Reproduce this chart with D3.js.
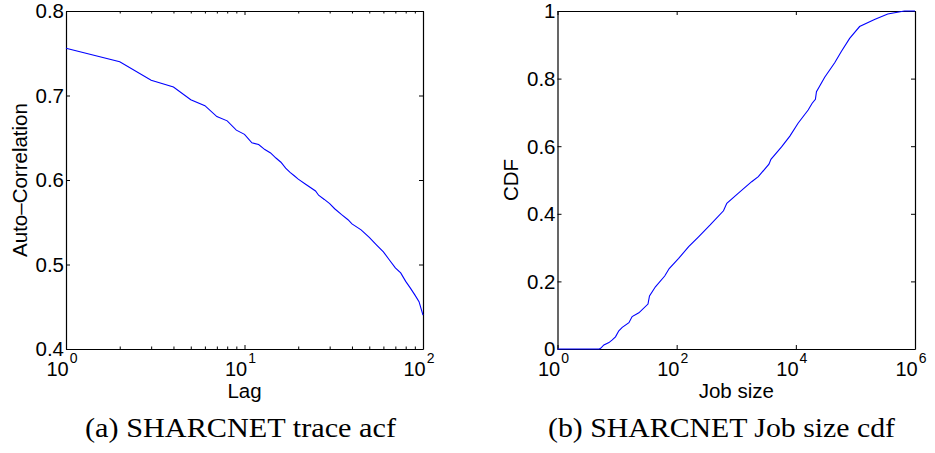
<!DOCTYPE html>
<html lang="en">
<head>
	<title>SHARCNET acf and job size cdf</title>
	<script src="https://d3js.org/d3.v7.min.js" charset="utf-8"></script>
	<style>
		body { margin: 0; background: #fff; }
		text { font-family: "Liberation Sans", Arial, sans-serif; }
		text.caption { font-family: "Liberation Serif", "DejaVu Serif", serif; }
		.axis path { stroke: #000; stroke-width: 1.2; }
		.axis line { stroke: #000; stroke-width: 1; }
	</style>
</head>
<body>
<script>
	// (a) auto-correlation by lag
	var lags = [1, 2, 3, 4, 5, 6, 7, 8, 9, 10, 11, 12, 13, 14, 15, 16, 17, 18, 19, 20,
		22, 25, 26, 28, 30, 32, 35, 38, 40, 45, 50, 55, 60, 65, 70, 75, 80, 85, 90, 95, 100];
	var acf = [0.756, 0.740, 0.718, 0.710, 0.695, 0.688, 0.675, 0.670, 0.659, 0.654,
		0.644, 0.642, 0.636, 0.632, 0.626, 0.621, 0.614, 0.609, 0.605, 0.601,
		0.595, 0.587, 0.582, 0.577, 0.572, 0.566, 0.559, 0.553, 0.548, 0.541,
		0.532, 0.523, 0.515, 0.505, 0.496, 0.490, 0.480, 0.472, 0.464, 0.456, 0.440];

	// (b) job size cdf
	var jobSizes = [1, 5, 5.3, 6, 7.3, 8.3, 9.4, 10.7, 12.2, 15.8, 17.9, 23.2, 33, 35, 44, 63, 75,
		108, 159, 233, 365, 611, 694, 1087, 1815, 2346, 3540, 3820, 5760, 7940, 10900,
		16100, 18800, 21300, 22200, 30500, 44900, 58000, 80000, 117500, 209000, 349000, 663000, 1e6];
	var cdf = [0, 0, 0.002, 0.012, 0.019, 0.027, 0.036, 0.054, 0.064, 0.078, 0.096, 0.107, 0.133,
		0.157, 0.184, 0.216, 0.238, 0.268, 0.303, 0.332, 0.367, 0.409, 0.431, 0.461, 0.495,
		0.510, 0.547, 0.561, 0.598, 0.630, 0.668, 0.707, 0.727, 0.739, 0.761, 0.804, 0.847,
		0.880, 0.919, 0.954, 0.975, 0.991, 1.0, 1.0];

	var acfYTicks = [0.4, 0.5, 0.6, 0.7, 0.8];
	var acfXTicks = [1, 10, 100];
	var cdfYTicks = [0, 0.2, 0.4, 0.6, 0.8, 1];
	var cdfXTicks = [1, 1e2, 1e4, 1e6];

	var w = 935, h = 453;
	var plotTop = 11, plotBottom = 349;

	var svg = d3.select("body").append("svg")
		.attr("width", w)
		.attr("height", h);

	function panel(opt) {
		var x = d3.scaleLog().domain(opt.xDomain).range([opt.left, opt.right]);
		var y = d3.scaleLinear().domain(opt.yDomain).range([plotBottom, plotTop]);
		var g = svg.append("g");

		// minor ticks, only for the lag panel
		if (opt.minor) {
			var minor = [];
			for (var d = 1; d < 100; d *= 10)
				for (var k = 2; k < 10; k++) minor.push(d * k);
			g.append("g").attr("class", "axis")
				.attr("transform", "translate(0," + plotBottom + ")")
				.call(d3.axisBottom(x).tickValues(minor).tickSize(-2.5).tickFormat(""))
				.select(".domain").remove();
			g.append("g").attr("class", "axis")
				.attr("transform", "translate(0," + plotTop + ")")
				.call(d3.axisTop(x).tickValues(minor).tickSize(-2.5).tickFormat(""))
				.select(".domain").remove();
		}

		// major ticks on all four sides
		g.append("g").attr("class", "axis")
			.attr("transform", "translate(0," + plotBottom + ")")
			.call(d3.axisBottom(x).tickValues(opt.xTicks).tickSize(-4).tickSizeOuter(0).tickFormat(""));
		g.append("g").attr("class", "axis")
			.attr("transform", "translate(0," + plotTop + ")")
			.call(d3.axisTop(x).tickValues(opt.xTicks).tickSize(-4).tickSizeOuter(0).tickFormat(""));
		g.append("g").attr("class", "axis")
			.attr("transform", "translate(" + opt.left + ",0)")
			.call(d3.axisLeft(y).tickValues(opt.yTicks).tickSize(-4).tickSizeOuter(0).tickFormat(""));
		g.append("g").attr("class", "axis")
			.attr("transform", "translate(" + opt.right + ",0)")
			.call(d3.axisRight(y).tickValues(opt.yTicks).tickSize(-4).tickSizeOuter(0).tickFormat(""));

		// y tick labels
		g.selectAll(".ylab").data(opt.yTicks).enter().append("text")
			.attr("x", opt.left - 2)
			.attr("y", function(d){ return y(d); })
			.attr("dy", "0.36em")
			.attr("text-anchor", "end")
			.attr("font-size", 20.5)
			.text(function(d){ return opt.yFmt(d); });

		// x tick labels 10^n
		var xl = g.selectAll(".xlab").data(opt.xTicks).enter().append("text")
			.attr("x", function(d){ return x(d) - 4; })
			.attr("y", 376)
			.attr("text-anchor", "middle")
			.attr("font-size", 20);
		xl.append("tspan").text("10");
		xl.append("tspan")
			.attr("font-size", 14)
			.attr("dx", 1)
			.attr("dy", -13)
			.text(function(d){ return Math.round(Math.log10(d)); });

		// the curve
		g.append("path")
			.datum(d3.range(opt.xs.length))
			.attr("fill", "none")
			.attr("stroke", "#0000ff")
			.attr("stroke-width", 1.1)
			.attr("d", d3.line()
				.x(function(i){ return x(opt.xs[i]); })
				.y(function(i){ return y(opt.ys[i]); }));

		// axis labels
		var cx = (opt.left + opt.right) / 2;
		g.append("text")
			.attr("x", cx).attr("y", 398)
			.attr("text-anchor", "middle")
			.attr("font-size", 20.5)
			.text(opt.xLabel);
		g.append("text")
			.attr("transform", "translate(" + opt.yLabelX + "," + ((plotTop + plotBottom) / 2) + ") rotate(-90)")
			.attr("text-anchor", "middle")
			.attr("font-size", 20.5)
			.text(opt.yLabel);

		// caption
		svg.append("text")
			.attr("class", "caption")
			.attr("x", opt.capX).attr("y", 437)
			.attr("font-size", 27)
			.attr("textLength", opt.capLen)
			.attr("lengthAdjust", "spacingAndGlyphs")
			.text(opt.caption);
	}

	panel({
		left: 66, right: 423,
		xDomain: [1, 100], yDomain: [0.4, 0.8],
		xTicks: acfXTicks, yTicks: acfYTicks, minor: true,
		yFmt: d3.format(".1f"),
		xs: lags, ys: acf,
		xLabel: "Lag", yLabel: "Auto\u2013Correlation", yLabelX: 27,
		caption: "(a) SHARCNET trace acf", capX: 85, capLen: 311
	});

	panel({
		left: 557.5, right: 915,
		xDomain: [1, 1e6], yDomain: [0, 1],
		xTicks: cdfXTicks, yTicks: cdfYTicks, minor: false,
		yFmt: function(d){ return d === 0 || d === 1 ? String(d) : d3.format(".1f")(d); },
		xs: jobSizes, ys: cdf,
		xLabel: "Job size", yLabel: "CDF", yLabelX: 518,
		caption: "(b) SHARCNET Job size cdf", capX: 548, capLen: 347
	});
</script>
</body>
</html>
